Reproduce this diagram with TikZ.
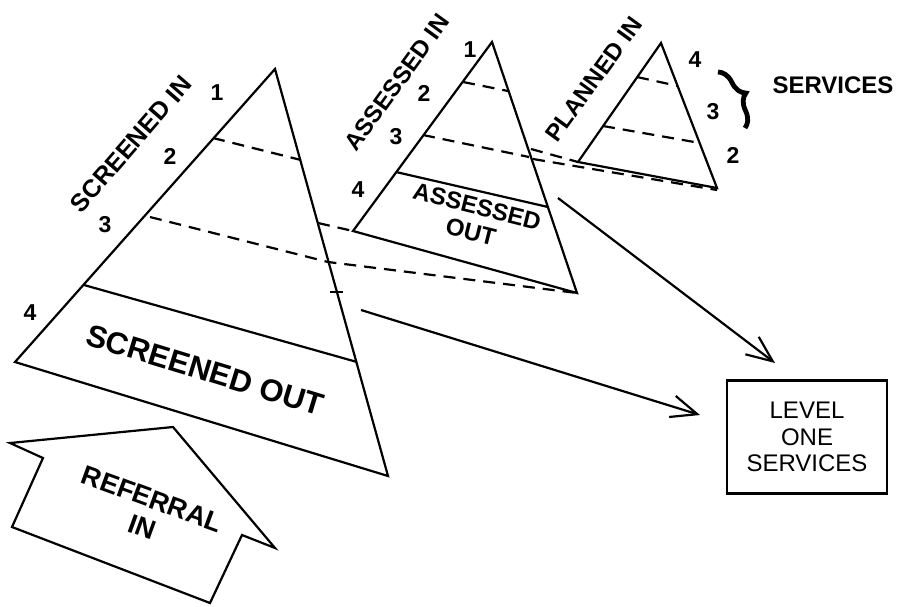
\documentclass[tikz,border=0pt]{standalone}
\usepackage{fontspec}
\setmainfont{Liberation Sans}
\usetikzlibrary{arrows.meta,decorations.pathreplacing}

\begin{document}
\begin{tikzpicture}[x=0.5pt,y=-0.5pt,line width=1.1pt,font=\bfseries]
  \useasboundingbox (0,0) rectangle (899,606);
  \tikzset{
    lvl/.style={font=\bfseries\fontsize{11.5}{13}\selectfont,inner sep=0pt},
    tag/.style={font=\bfseries\fontsize{12}{14}\selectfont,inner sep=0pt},
    cut/.style={dash pattern=on 6pt off 4pt},
    flow/.style={-{Straight Barb[length=13pt,width=11pt]}},
  }

  % Screened pyramid, cut into four levels.
  \coordinate (sTop) at (275,69);
  \coordinate (sLeft) at (15,362);
  \coordinate (sRight) at (388,476);
  \draw (sTop) -- (sLeft) -- (sRight) -- cycle;
  \draw[cut] (213,138) -- (301,160);
  \draw[cut] (150,217) -- (328,262) -- (577,293);
  \draw (84,285) -- (357,362);
  \draw (330,292) -- (343,292);
  \node[tag,rotate=49,font=\bfseries\fontsize{12.5}{14}\selectfont] (scrin) at (131,144) {SCREENED IN};
  \node[font=\bfseries\fontsize{15.5}{17}\selectfont,rotate=-17] (scrout) at (205,370) {SCREENED OUT};
  \node[lvl] (s1) at (217,93) {1};
  \node[lvl] (s2) at (170,156) {2};
  \node[lvl] (s3) at (105,225) {3};
  \node[lvl] (s4) at (30,313) {4};

  % Assessed pyramid takes the upper part of the screened one.
  \coordinate (aTop) at (492,42);
  \coordinate (aLeft) at (353,231);
  \coordinate (aRight) at (577,293);
  \draw (aTop) -- (aLeft) -- (aRight) -- cycle;
  \draw[cut] (318,223) -- (aLeft);
  \draw[cut] (463,82) -- (508,91);
  \draw[cut] (423,135) -- (529,157);
  \draw (396,172) -- (548,207);
  \node[tag,rotate=54] (assin) at (397,82) {ASSESSED IN};
  \node[font=\bfseries\fontsize{12}{13}\selectfont,align=center,rotate=-14] (assout) at (474,219) {ASSESSED\\OUT};
  \node[lvl] (a1) at (470,50) {1};
  \node[lvl] (a2) at (424,93) {2};
  \node[lvl] (a3) at (396,137) {3};
  \node[lvl] (a4) at (358,190) {4};

  % Planned pyramid takes the upper part of the assessed one.
  \coordinate (pTop) at (661,43);
  \coordinate (pLeft) at (578,162);
  \coordinate (pRight) at (717,188);
  \draw (pTop) -- (pLeft) -- (pRight) -- cycle;
  \draw[cut] (531,149) -- (pLeft);
  \draw[cut] (533,159) -- (717,190);
  \draw[cut] (637,77) -- (678,86);
  \draw[cut] (603,126) -- (700,143);
  \node[tag,rotate=54] (planin) at (594,79) {PLANNED IN};
  \node[lvl] (p4) at (695,60) {4};
  \node[lvl] (p3) at (713,112) {3};
  \node[lvl] (p2) at (733,155) {2};
  \draw[line width=2.4pt,decorate,decoration={brace,amplitude=8pt}] (718,72) -- (745,128);
  \node[font=\bfseries\fontsize{12}{13}\selectfont] (serv) at (833,85) {SERVICES};

  % Way in, and the way out to level one services.
  \draw[line join=miter] (10,443) -- (173,427) -- (275,548) -- (242,535) -- (210,603)
    -- (12,527) -- (43,458) -- cycle;
  \node[font=\bfseries\fontsize{13.5}{15}\selectfont,align=center,rotate=-20] (refin) at (147,513) {REFERRAL\\IN};
  \node[draw,font=\mdseries\fontsize{12}{13.3}\selectfont,align=center,
    minimum width=80pt,minimum height=56.5pt] (level) at (807,437) {LEVEL\\ONE\\SERVICES};
  \coordinate (out1) at (361,310);
  \coordinate (tip1) at (700,415);
  \coordinate (out2) at (558,198);
  \coordinate (tip2) at (775,363);
  \draw[flow] (out1) -- (tip1);
  \draw[flow] (out2) -- (tip2);
\end{tikzpicture}
\end{document}
